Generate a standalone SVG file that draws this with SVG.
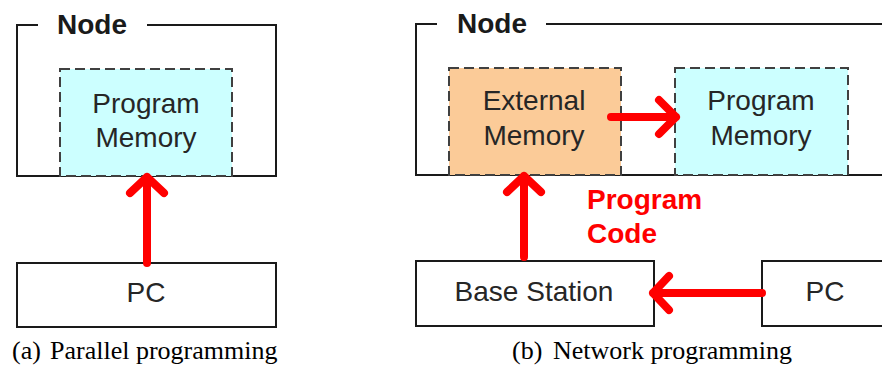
<svg xmlns="http://www.w3.org/2000/svg" width="882" height="374" viewBox="0 0 882 374">
  <style>
    .frame { fill: none; stroke: #1a1a1a; stroke-width: 2; }
    .box { fill: #ffffff; stroke: #1a1a1a; stroke-width: 2; }
    .mem { stroke: #404040; stroke-width: 2; stroke-dasharray: 10 5; }
    .prog { fill: #ccffff; }
    .ext { fill: #fbcb98; }
    .label { font-family: "Liberation Sans", Arial, sans-serif; font-size: 28px; fill: #262626; text-anchor: middle; }
    .title { font-family: "Liberation Sans", Arial, sans-serif; font-size: 28px; font-weight: bold; fill: #1a1a1a; }
    .code { font-family: "Liberation Sans", Arial, sans-serif; font-size: 28px; font-weight: bold; fill: #ff0000; }
    .caption { font-family: "Liberation Serif", "Times New Roman", serif; font-size: 26px; fill: #000000; }
    .arrow { fill: none; stroke: #ff0000; stroke-width: 8; stroke-linecap: round; stroke-linejoin: round; }
  </style>

  <!-- (a) parallel programming -->
  <g id="node-a">
    <path class="frame" d="M38 25 H17 V176 H276 V25 H147"/>
    <text class="title" x="57" y="34">Node</text>
  </g>
  <g id="program-memory-a">
    <rect class="mem prog" x="60" y="69" width="172" height="107"/>
    <text class="label" x="146" y="113">Program</text>
    <text class="label" x="146" y="147">Memory</text>
  </g>
  <g id="pc-a">
    <rect class="box" x="17" y="263" width="259" height="64"/>
    <text class="label" x="146" y="302">PC</text>
  </g>
  <text class="caption" x="12" y="359">(a)</text>
  <text class="caption" x="50" y="359">Parallel programming</text>

  <!-- (b) network programming -->
  <g id="node-b">
    <path class="frame" d="M437 24 H416 V175 H884 M884 24 H546"/>
    <text class="title" x="457" y="33">Node</text>
  </g>
  <g id="external-memory">
    <rect class="mem ext" x="449" y="68" width="172" height="107"/>
    <text class="label" x="534" y="110">External</text>
    <text class="label" x="534" y="145">Memory</text>
  </g>
  <g id="program-memory-b">
    <rect class="mem prog" x="675" y="68" width="173" height="107"/>
    <text class="label" x="761" y="110">Program</text>
    <text class="label" x="761" y="145">Memory</text>
  </g>
  <g id="base-station">
    <rect class="box" x="416" y="261" width="238" height="65"/>
    <text class="label" x="534" y="301">Base Station</text>
  </g>
  <g id="pc-b">
    <rect class="box" x="762" y="261" width="130" height="65"/>
    <text class="label" x="825" y="301">PC</text>
  </g>
  <text class="code" x="587" y="209">Program</text>
  <text class="code" x="587" y="243">Code</text>
  <text class="caption" x="512" y="359">(b)</text>
  <text class="caption" x="553" y="359">Network programming</text>

  <!-- connectors -->
  <g id="connectors">
    <path class="arrow" d="M147 263 V177 M130 193 L147 177 L164 193"/>
    <path class="arrow" d="M611 117 H676 M659 100 L676 117 L659 134"/>
    <path class="arrow" d="M524 257 V176 M507 192 L524 176 L541 192"/>
    <path class="arrow" d="M762 293 H653 M669 276 L653 293 L669 310"/>
  </g>
</svg>
